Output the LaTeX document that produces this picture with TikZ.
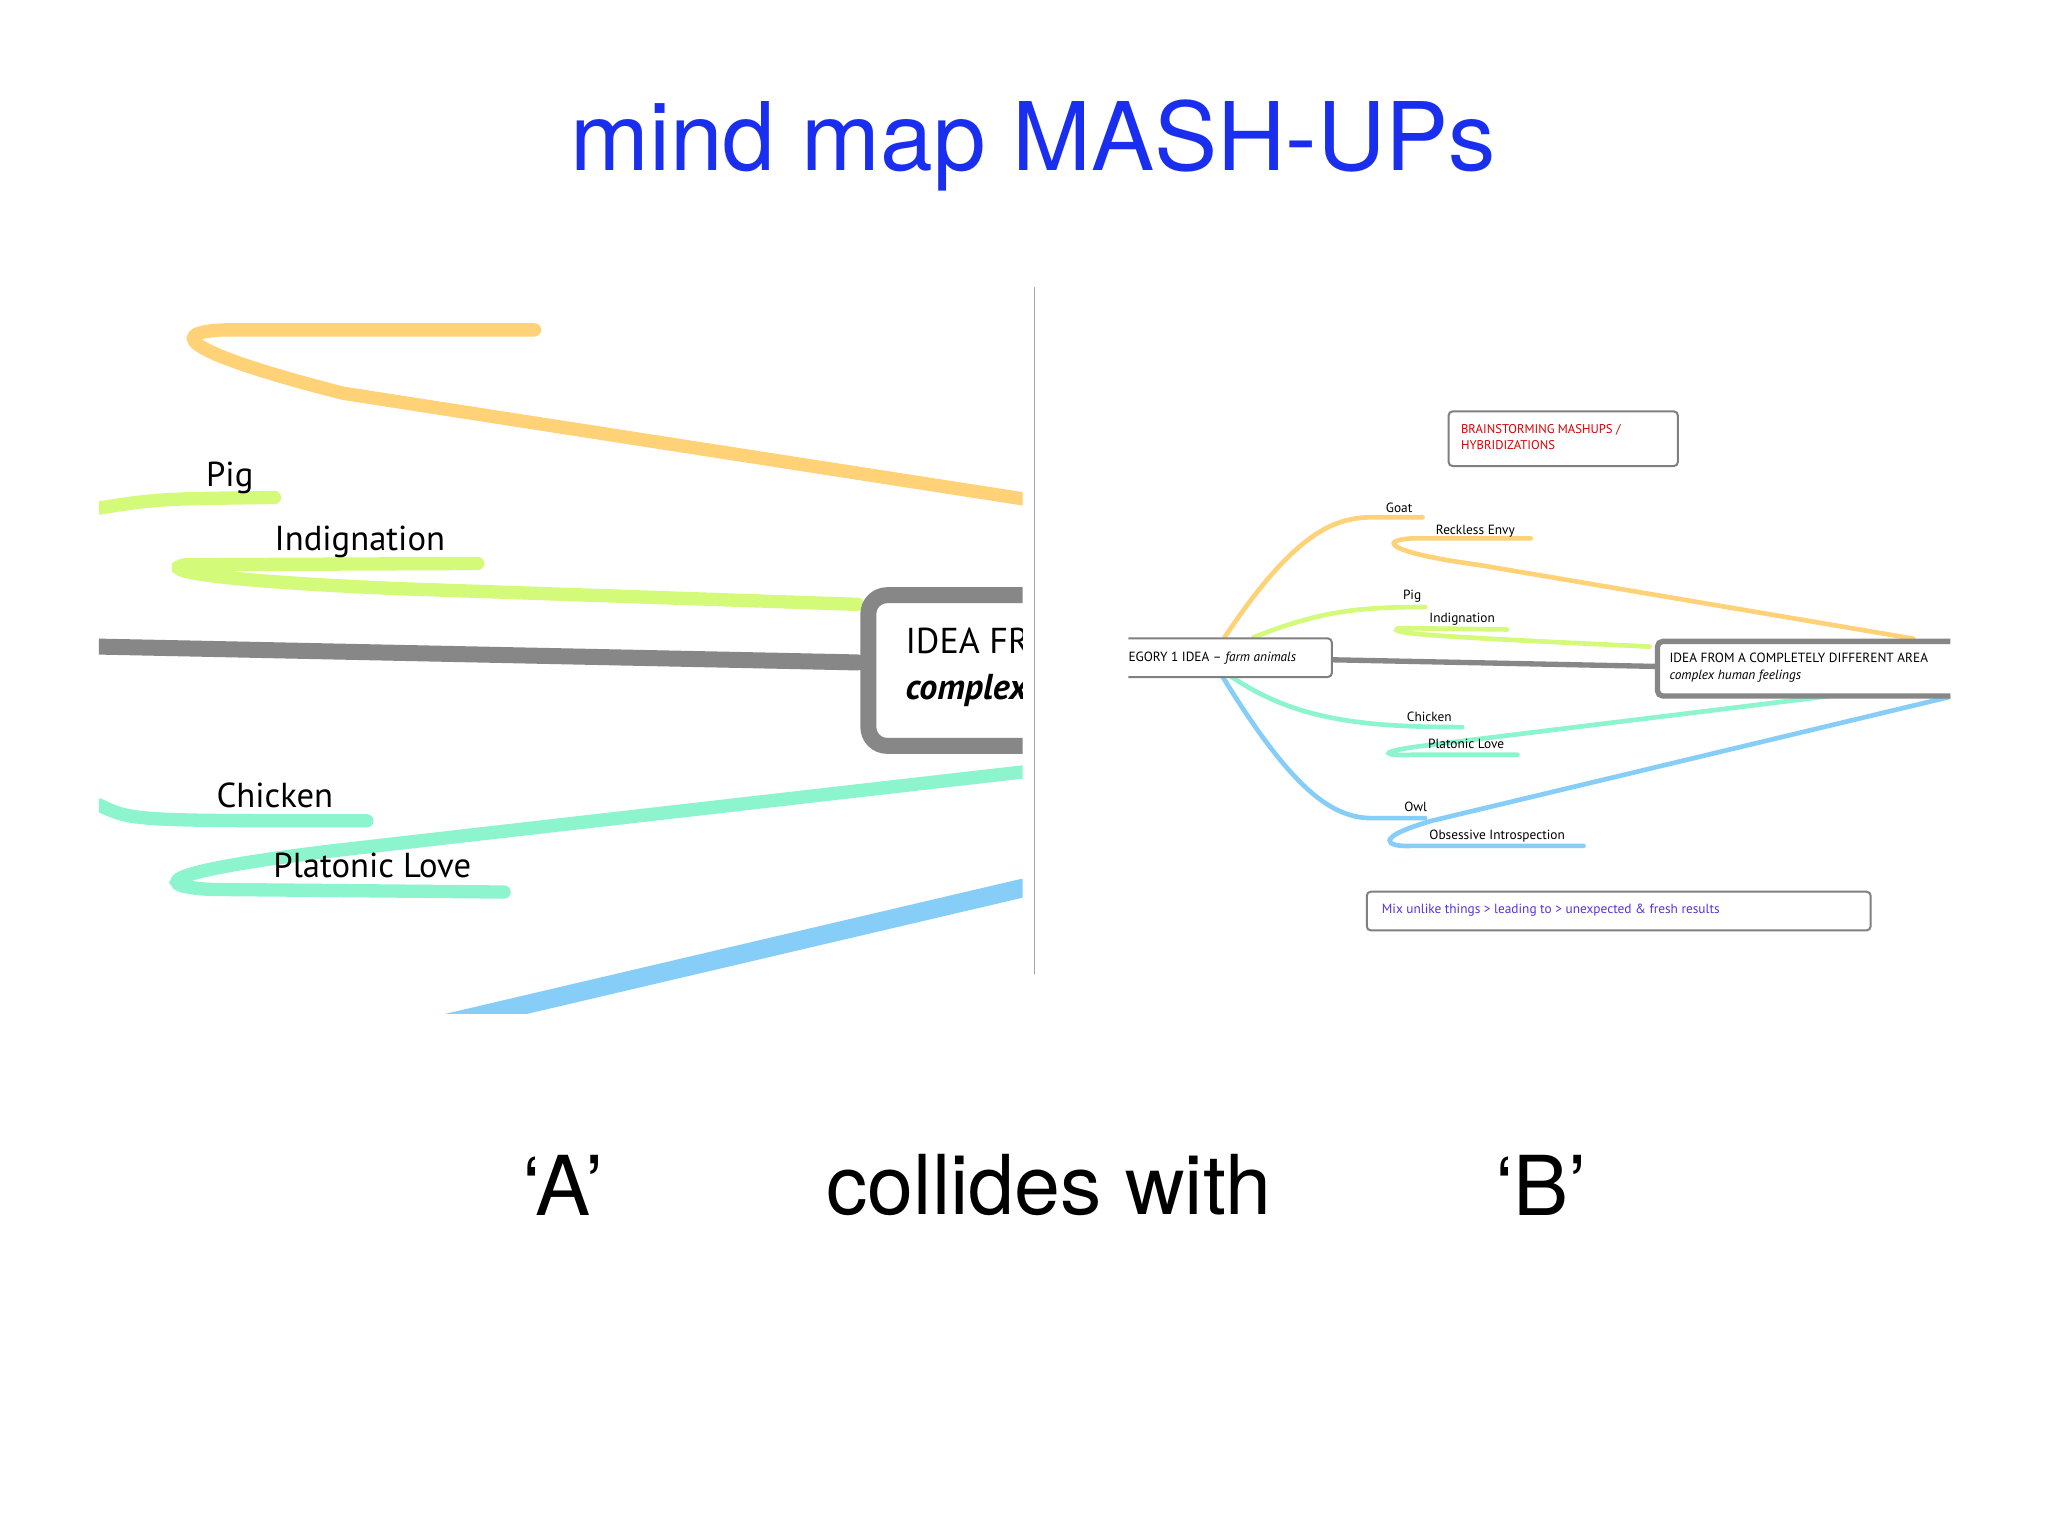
\documentclass[tikz,border=0pt]{standalone}
\usepackage{fontspec}
\setmainfont{TeX Gyre Heros}
\newfontfamily\mm{PT Sans}
\begin{document}
\begin{tikzpicture}[x=0.99pt,y=-0.99pt,line cap=round,
  lbl/.style={font=\mm, inner sep=0pt, anchor=base west},
  lblA/.style={lbl, font=\mm\fontsize{26}{28}\selectfont},
  lblB/.style={lbl, font=\mm\fontsize{10}{12}\selectfont}]
\definecolor{cOr}{RGB}{255,210,120}
\definecolor{cGr}{RGB}{212,250,122}
\definecolor{cMi}{RGB}{140,245,205}
\definecolor{cBl}{RGB}{134,206,247}
\definecolor{cGy}{RGB}{135,135,135}
\definecolor{cTi}{RGB}{26,46,240}
\useasboundingbox (0,0) rectangle (1552,1164);
\fill[white] (0,0) rectangle (1552,1164);
\node (title) at (783,110) {\fontsize{71}{73}\selectfont\color{cTi}mind map MASH-UPs};
% left panel
\begin{scope}
\clip (75,218) rectangle (775,768);
\draw[cOr,line width=10] (405,250) -- (170,250) .. controls (120,252) and (150,270) .. (260,298) -- (775,378);
\draw[cGr,line width=10] (75,385) .. controls (120,378) .. (208,377);
\draw[cGr,line width=10] (362,427) -- (140,428) .. controls (120,432) and (160,440) .. (300,446) -- (650,458);
\draw[cGy,line width=12] (75,490) -- (650,502);
\draw[cMi,line width=10] (75,610) .. controls (100,622) .. (278,622);
\draw[cMi,line width=10] (775,585) -- (250,645) .. controls (110,662) and (120,672) .. (160,674) -- (382,676);
\draw[cBl,line width=14] (340,775) -- (775,673);
\node (boxA) [draw=cGy, line width=12, rounded corners=14, fill=white, minimum width=260, minimum height=113, anchor=north west] at (652,445) {};
\node[lbl, font=\mm\fontsize{27}{30}\selectfont] at (686,495) {IDEA FROM};
\node[lbl, font=\mm\bfseries\itshape\fontsize{27}{30}\selectfont] at (686,530) {complex};
\end{scope}
\node[lblA] (pig) at (156,369) {Pig};
\node[lblA] (ind) at (208,417) {Indignation};
\node[lblA] (chk) at (164,612) {Chicken};
\node[lblA] (pl) at (207,665) {Platonic Love};
\draw[gray!70, line width=1] (784,218) -- (784,738);
% right panel
\node (red) [draw=gray, line width=1.5, rounded corners=3, minimum width=172, minimum height=41, anchor=north west] at (1097,311) {};
\node[lblB, anchor=west, align=left, text=red!85!black, font=\mm\fontsize{9.5}{12}\selectfont] at (1107,331) {BRAINSTORMING MASHUPS /\\HYBRIDIZATIONS};
\begin{scope}
\clip (855,300) rectangle (1478,720);
\draw[cOr,line width=3.5] (928,483) .. controls (980,405) and (1010,392) .. (1040,392) -- (1078,392);
\draw[cOr,line width=3.5] (1160,408) -- (1070,408) .. controls (1040,410) and (1060,420) .. (1120,428) -- (1450,484);
\draw[cGr,line width=3.5] (950,483) .. controls (1000,463) and (1030,460) .. (1080,460);
\draw[cGr,line width=3.5] (1142,477) -- (1060,476) .. controls (1050,480) and (1080,482) .. (1250,490);
\draw[cGy,line width=4] (1010,500) -- (1254,505);
\draw[cMi,line width=3.5] (932,512) .. controls (980,545) and (1030,551) .. (1108,551);
\draw[cMi,line width=3.5] (1390,527) -- (1080,565) .. controls (1040,570) and (1050,573) .. (1070,572) -- (1150,572);
\draw[cBl,line width=3.5] (926,512) .. controls (980,600) and (1010,620) .. (1040,620) -- (1080,620);
\draw[cBl,line width=3.5] (1478,528) -- (1085,622) .. controls (1040,635) and (1050,642) .. (1070,641) -- (1200,641);
\node (boxL) [draw=gray, line width=1.5, rounded corners=3, fill=white, minimum width=200, minimum height=29, anchor=north east] at (1010,483) {};
\node[lblB] at (855,501) {EGORY 1 IDEA – \textit{farm animals}};
\node (boxR) [draw=cGy, line width=4, rounded corners=4, fill=white, minimum width=260, minimum height=41, anchor=north west] at (1254,484) {};
\node[lblB] at (1265,502) {IDEA FROM A COMPLETELY DIFFERENT AREA};
\node[lblB] at (1265,515) {\textit{complex human feelings}};
\end{scope}
\node[lblB] (goat) at (1050,388) {Goat};
\node[lblB] (re) at (1088,405) {Reckless Envy};
\node[lblB] (pigb) at (1063,454) {Pig};
\node[lblB] (indb) at (1083,472) {Indignation};
\node[lblB] (chb) at (1066,547) {Chicken};
\node[lblB] (plb) at (1082,567) {Platonic Love};
\node[lblB] (owl) at (1064,615) {Owl};
\node[lblB] (ob) at (1083,636) {Obsessive Introspection};
\node (mix) [draw=gray, line width=1.5, rounded corners=3, minimum width=378, minimum height=29, anchor=north west] at (1035,675) {};
\node[lblB, text={rgb,255:red,85;green,51;blue,221}] at (1047,692) {Mix unlike things > leading to > unexpected \& fresh results};
% bottom
\node[font=\fontsize{62}{64}\selectfont] (A) at (427,898) {‘A’};
\node[font=\fontsize{62}{64}\selectfont] (cw) at (795,898) {collides with};
\node[font=\fontsize{62}{64}\selectfont] (B) at (1168,898) {‘B’};
\end{tikzpicture}
\end{document}
